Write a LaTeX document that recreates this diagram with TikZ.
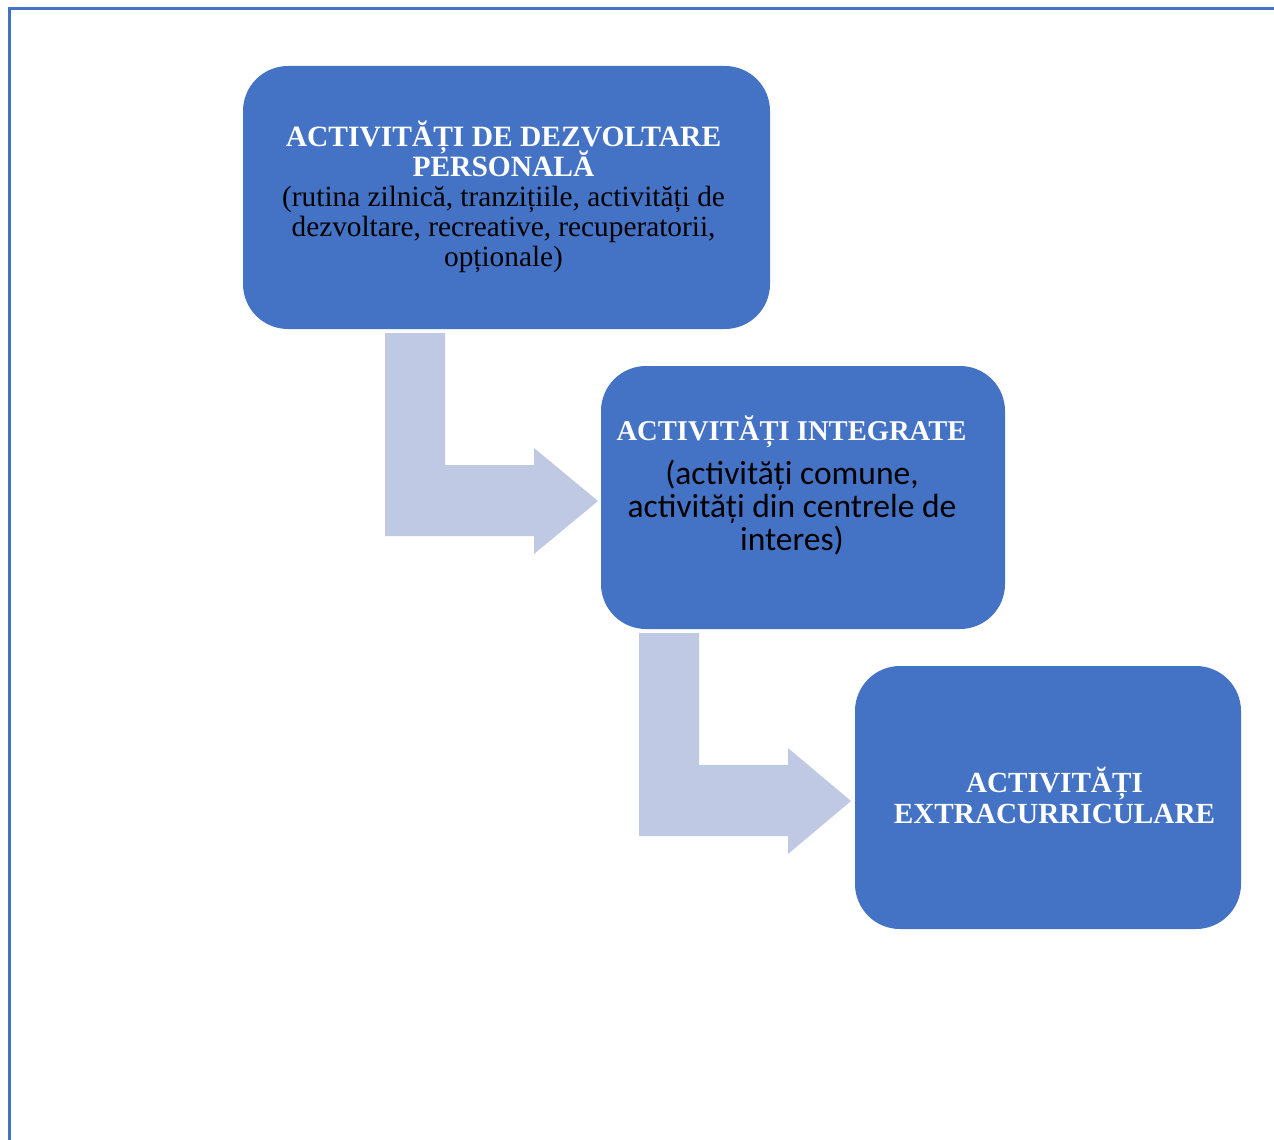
\documentclass[tikz,border=0pt]{standalone}
\usepackage{fontspec}
\setmainfont{Liberation Serif}
\newfontfamily\calfont{Carlito}
\definecolor{boxblue}{HTML}{4472C4}
\definecolor{arrowblue}{HTML}{BFC9E3}
\newcommand\tightlines{\lineskiplimit -100pt\relax}
\begin{document}
\begin{tikzpicture}[x=1pt,y=-1pt,
  box/.style={fill=boxblue, draw=none, rounded corners=45pt, inner sep=0pt, align=center},
  txt/.style={align=center, inner sep=0pt, anchor=base},
  bent/.style={fill=arrowblue, draw=none}]
\useasboundingbox (0,0) rectangle (1274,1140);
\fill[white] (0,0) rectangle (1274,1140);
% page frame
\draw[boxblue, line width=3pt] (9,1140) -- (9,9) -- (1274,9);
% boxes
\node[box, minimum width=527pt, minimum height=263pt] (b1) at (506.5,197.5) {};
\node[box, minimum width=404pt, minimum height=263pt] (b2) at (803,497.5) {};
\node[box, minimum width=386pt, minimum height=263pt] (b3) at (1048,797.5) {};
% texts
\node[txt, text=white, font=\fontsize{29.5}{30}\selectfont\tightlines\bfseries] (t1a) at (503.5,176.7)
  {ACTIVITĂȚI DE DEZVOLTARE\\PERSONALĂ};
\node[txt, font=\fontsize{29.3}{30}\selectfont\tightlines] (t1b) at (503.5,266.7)
  {(rutina zilnică, tranzițiile, activități de\\dezvoltare, recreative, recuperatorii,\\opționale)};
\node[txt, text=white, font=\fontsize{28.6}{30}\selectfont\bfseries] (t2a) at (791.5,440)
  {ACTIVITĂȚI INTEGRATE};
\node[txt, font=\calfont\fontsize{33.5}{33}\selectfont\tightlines] (t2b) at (792,550)
  {(activități comune,\\activități din centrele de\\interes)};
\node[txt, text=white, font=\fontsize{29.2}{30.5}\selectfont\tightlines\bfseries] (t3) at (1054.5,823)
  {ACTIVITĂȚI\\EXTRACURRICULARE};
% bent arrows
\fill[bent] (385,333) -- (445,333) -- (445,465) -- (534,465) -- (534,448) -- (598,501)
  -- (534,554) -- (534,536) -- (385,536) -- cycle;
\fill[bent] (639,633) -- (699,633) -- (699,765) -- (788,765) -- (788,748) -- (851,801)
  -- (788,854) -- (788,836) -- (639,836) -- cycle;
\end{tikzpicture}
\end{document}
